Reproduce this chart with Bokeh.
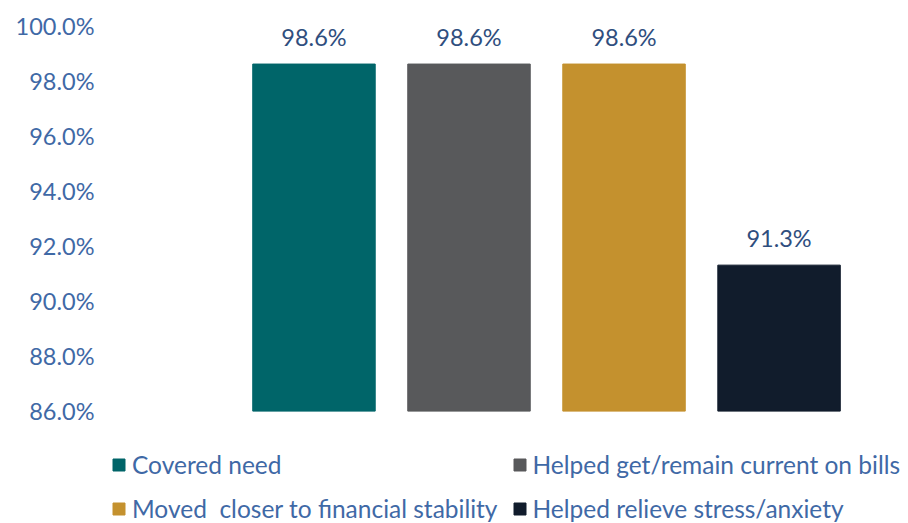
from bokeh.plotting import figure
from bokeh.models import (ColumnDataSource, Range1d, Legend, LegendItem, LabelSet,
                          FixedTicker, CustomJSTickFormatter, CDSView, IndexFilter)
from bokeh.core.properties import value
from bokeh.embed import file_html
from bokeh.resources import INLINE

categories = ["Covered need", "Helped get/remain current on bills",
              "Moved  closer to financial stability", "Helped relieve stress/anxiety"]
values = [98.6, 98.6, 98.6, 91.3]
colors = ["#006569", "#58595b", "#c4912e", "#111c2c"]
tick_values = [86, 88, 90, 92, 94, 96, 98, 100]
axis_min = 86

FONT = "Lato"
TICK_COLOR = "#3f69a6"
LABEL_COLOR = "#2f4e7e"

xs = list(range(len(categories)))
src = ColumnDataSource(dict(x=xs, top=values, color=colors, cat=categories,
                            lab=["%.1f%%" % v for v in values]))

p = figure(width=908, height=523, output_backend="svg", toolbar_location=None,
           x_range=Range1d(-1.377, 3.835), y_range=Range1d(81.92, 100),
           min_border_left=100, min_border_right=0, min_border_top=25, min_border_bottom=0)
p.outline_line_color = None
p.grid.visible = False
p.background_fill_color = "white"
p.border_fill_color = "white"

renderers = []
for i in xs:
    r = p.vbar(x="x", top="top", bottom=axis_min, width=0.79, color="color", source=src,
               view=CDSView(filter=IndexFilter([i])))
    renderers.append(r)

labels = LabelSet(x="x", y="top", text="lab", source=src, y_offset=27,
                  text_align="center", text_baseline="middle",
                  text_font=value(FONT), text_font_size=value("23.5px"),
                  text_color=LABEL_COLOR)
p.add_layout(labels)

p.xaxis.visible = False
ya = p.yaxis[0]
ya.ticker = FixedTicker(ticks=tick_values)
ya.formatter = CustomJSTickFormatter(code="return tick.toFixed(1) + '%';")
ya.axis_line_color = None
ya.major_tick_line_color = None
ya.minor_tick_line_color = None
ya.major_tick_out = 0
ya.major_tick_in = 0
ya.major_label_standoff = 6
ya.major_label_text_font = FONT
ya.major_label_text_font_size = "23.5px"
ya.major_label_text_color = TICK_COLOR

items = [LegendItem(label=c, renderers=[r]) for c, r in zip(categories, renderers)]
legend = Legend(items=items, location=(11, 0), orientation="horizontal", ncols=2,
                glyph_width=15, glyph_height=15, label_standoff=6, spacing=14,
                label_height=30, padding=0, margin=0,
                border_line_color=None, background_fill_alpha=0,
                label_text_font=FONT, label_text_font_size="24.5px",
                label_text_color=TICK_COLOR)
p.add_layout(legend, "center")

open("out.html", "w").write(file_html(p, INLINE))
